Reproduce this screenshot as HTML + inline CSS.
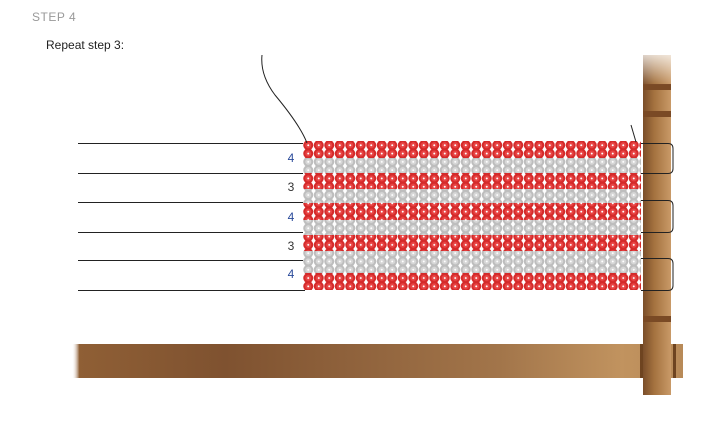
<!DOCTYPE html>
<html><head><style>
body{margin:0;background:#fff;width:705px;height:425px;overflow:hidden;position:relative;font-family:"Liberation Sans",sans-serif}
.t{position:absolute}
</style></head><body>
<div class="t" style="left:32px;top:10px;font-size:12px;color:#999;letter-spacing:0.5px">STEP 4</div>
<div class="t" style="left:46px;top:38px;font-size:12px;color:#222">Repeat step 3:</div>
<svg width="705" height="425" style="position:absolute;left:0;top:0">
<defs>
<linearGradient id="bar" x1="0" x2="1">
<stop offset="0" stop-color="#fff" stop-opacity="0"/>
<stop offset="0.012" stop-color="#8f5f35"/>
<stop offset="0.25" stop-color="#7f5230"/>
<stop offset="0.7" stop-color="#a2754a"/>
<stop offset="0.9" stop-color="#c1935f"/>
<stop offset="1" stop-color="#b88a58"/>
</linearGradient>
<linearGradient id="post" x1="0" x2="1">
<stop offset="0" stop-color="#7a4e2a"/>
<stop offset="0.4" stop-color="#a4723f"/>
<stop offset="1" stop-color="#c99a68"/>
</linearGradient>
<linearGradient id="fade" x1="0" y1="0" x2="0" y2="1">
<stop offset="0" stop-color="#fff" stop-opacity="1"/>
<stop offset="1" stop-color="#fff" stop-opacity="0"/>
</linearGradient>
<pattern id="red" x="303" y="0" width="10.5" height="8.3" patternUnits="userSpaceOnUse">
<rect width="10.5" height="8.3" fill="#fff"/>
<circle cx="5.25" cy="4.15" r="5" fill="#d42a2a"/>
<circle cx="5.25" cy="4.15" r="3" fill="#e84444"/>
<circle cx="5.25" cy="4.15" r="1" fill="#fff"/>
</pattern>
<pattern id="grey" x="303" y="0" width="10.5" height="8.3" patternUnits="userSpaceOnUse">
<rect width="10.5" height="8.3" fill="#fff"/>
<circle cx="5.25" cy="4.15" r="5" fill="#bdbdbd"/>
<circle cx="5.25" cy="4.15" r="3" fill="#d6d6d6"/>
<circle cx="5.25" cy="4.15" r="1" fill="#fff"/>
</pattern>
</defs>
<rect x="72" y="344" width="611" height="34" fill="url(#bar)"/>
<rect x="643" y="55" width="28" height="340" fill="url(#post)"/>
<rect x="643" y="84" width="28" height="6" fill="#7a4a25"/>
<rect x="643" y="111" width="28" height="6" fill="#7a4a25"/>
<rect x="643" y="316" width="28" height="6" fill="#7a4a25"/>
<rect x="640" y="344" width="3" height="34" fill="#6e4420"/>
<rect x="673" y="344" width="3" height="34" fill="#6e4420"/>
<rect x="641" y="45" width="32" height="40" fill="url(#fade)"/>
<g stroke="#222" stroke-width="1">
<line x1="78" y1="143.5" x2="305" y2="143.5"/>
<line x1="78" y1="173.5" x2="305" y2="173.5"/>
<line x1="78" y1="202.5" x2="305" y2="202.5"/>
<line x1="78" y1="232.5" x2="305" y2="232.5"/>
<line x1="78" y1="260.5" x2="305" y2="260.5"/>
<line x1="78" y1="290.5" x2="305" y2="290.5"/>
</g>
<g>
<rect x="303" y="141" width="338" height="17" fill="url(#red)"/>
<rect x="303" y="158" width="338" height="15" fill="url(#grey)"/>
<rect x="303" y="173" width="338" height="16" fill="url(#red)"/>
<rect x="303" y="189" width="338" height="14" fill="url(#grey)"/>
<rect x="303" y="203" width="338" height="17" fill="url(#red)"/>
<rect x="303" y="220" width="338" height="15" fill="url(#grey)"/>
<rect x="303" y="235" width="338" height="16" fill="url(#red)"/>
<rect x="303" y="251" width="338" height="22" fill="url(#grey)"/>
<rect x="303" y="273" width="338" height="17" fill="url(#red)"/>
</g>
<g fill="none" stroke="#222" stroke-width="1">
<path d="M641 143.5 H668 Q673 143.5 673 148.5 V168.5 Q673 173.5 668 173.5 H641"/>
<path d="M641 200.5 H668 Q673 200.5 673 205.5 V227.5 Q673 232.5 668 232.5 H641"/>
<path d="M641 258.5 H668 Q673 258.5 673 263.5 V285.5 Q673 290.5 668 290.5 H641"/>
<path d="M262 55 Q260 75 275 95 Q300 125 307 143"/>
<line x1="631" y1="125" x2="636" y2="142"/>
</g>
<g font-family="Liberation Sans,sans-serif" font-size="12" text-anchor="middle">
<text x="291" y="162" fill="#2a4a9a">4</text>
<text x="291" y="191" fill="#333">3</text>
<text x="291" y="221" fill="#2a4a9a">4</text>
<text x="291" y="250" fill="#333">3</text>
<text x="291" y="278" fill="#2a4a9a">4</text>
</g>
</svg>
</body></html>
